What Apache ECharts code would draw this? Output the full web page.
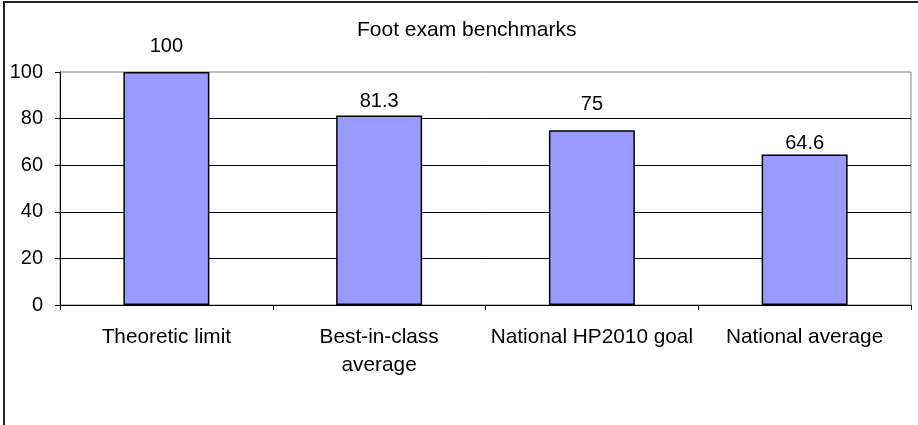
<!DOCTYPE html>
<html>
<head>
<meta charset="utf-8">
<script src="https://cdn.jsdelivr.net/npm/echarts@6/dist/echarts.min.js"></script>
<style>
html,body{margin:0;padding:0;background:#fff;}
#chart{width:918px;height:425px;}
</style>
</head>
<body>
<div id="chart"></div>
<script>
var titleText = 'Foot exam benchmarks';
var categories = ['Theoretic limit', 'Best-in-class\naverage', 'National HP2010 goal', 'National average'];
var values = [100, 81.3, 75, 64.6];
var yTicks = [0, 20, 40, 60, 80, 100];

var FONT = '"Liberation Sans", Arial, sans-serif';
var labelGaps = [16, 4, 16, 1];
var chart = echarts.init(document.getElementById('chart'), null, {renderer: 'canvas'});
chart.setOption({
  backgroundColor: '#ffffff',
  animation: false,
  title: {
    text: titleText,
    left: 352, top: 15,
    textStyle: {fontFamily: FONT, fontSize: 21, fontWeight: 'normal', color: '#000'}
  },
  graphic: [{
    type: 'rect', silent: true,
    shape: {x: 4, y: 2, width: 960, height: 460},
    style: {fill: 'none', stroke: '#222', lineWidth: 2}
  }],
  grid: {
    left: 60, right: 7, top: 72, bottom: 120,
    show: true, borderColor: '#808080', borderWidth: 1, backgroundColor: 'transparent'
  },
  xAxis: {
    type: 'category',
    data: categories,
    boundaryGap: true,
    axisLine: {lineStyle: {color: '#000', width: 1}},
    axisTick: {show: true, length: 5, lineStyle: {color: '#000'}},
    axisLabel: {
      color: '#000', fontFamily: FONT, fontSize: 20.8, lineHeight: 28, margin: 18, interval: 0
    }
  },
  yAxis: {
    type: 'value',
    min: yTicks[0], max: yTicks[yTicks.length - 1], interval: 20,
    axisLine: {show: true, lineStyle: {color: '#000', width: 1}},
    axisTick: {show: true, length: 5, lineStyle: {color: '#000'}},
    axisLabel: {color: '#000', fontFamily: FONT, fontSize: 20, margin: 17},
    splitLine: {show: true, showMaxLine: false, lineStyle: {color: '#000', width: 1}}
  },
  series: [{
    type: 'bar',
    data: values.map(function (v, i) {
      return {value: v, label: {distance: labelGaps[i]}};
    }),
    barWidth: 86,
    itemStyle: {color: '#9999FF', borderColor: '#000', borderWidth: 1.5},
    label: {
      show: true, position: 'top',
      color: '#000', fontFamily: FONT, fontSize: 20
    }
  }]
});
</script>
</body>
</html>
